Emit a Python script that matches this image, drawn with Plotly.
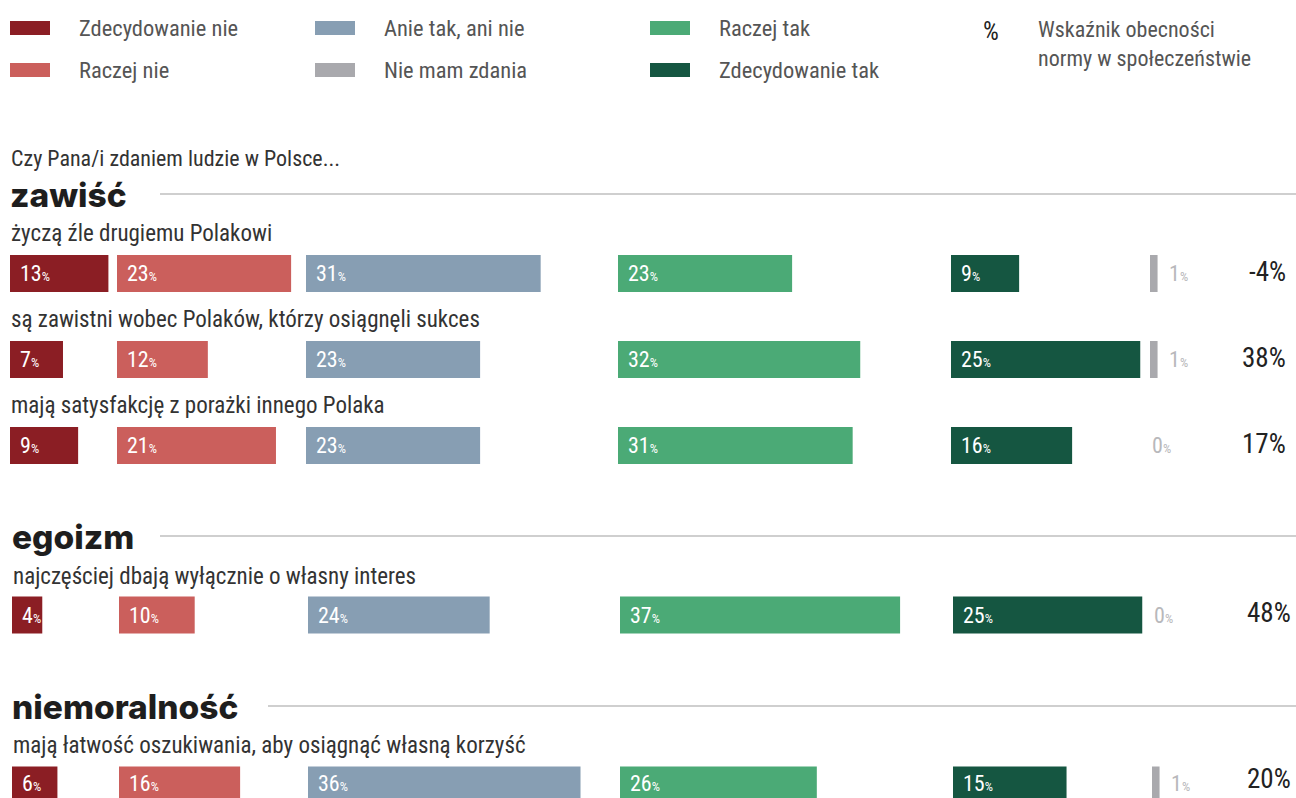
import plotly.graph_objects as go

# dane
kategorie = ["Zdecydowanie nie", "Raczej nie", "Anie tak, ani nie",
             "Raczej tak", "Zdecydowanie tak", "Nie mam zdania"]
kolory = ["#8b1e24", "#cb5f5c", "#879eb3", "#4baa76", "#155641", "#a9a9ad"]

pytania = ["życzą źle drugiemu Polakowi",
           "są zawistni wobec Polaków, którzy osiągnęli sukces",
           "mają satysfakcję z porażki innego Polaka",
           "najczęściej dbają wyłącznie o własny interes",
           "mają łatwość oszukiwania, aby osiągnąć własną korzyść"]
zdecydowanie_nie = [13, 7, 9, 4, 6]
raczej_nie = [23, 12, 21, 10, 16]
anie_tak_ani_nie = [31, 23, 23, 24, 36]
raczej_tak = [23, 32, 31, 37, 26]
zdecydowanie_tak = [9, 25, 16, 25, 15]
nie_mam_zdania = [1, 1, 0, 0, 1]
wskaznik = [-4, 38, 17, 48, 20]

grupy = ["zawiść", "egoizm", "niemoralność"]

W, H = 1296, 798
PX = 7.57                                   # pikseli na 1 punkt procentowy
kol_off = [0, 107, 296, 608, 941, 1140]     # początek kolumn (px)
wiersz_y = [273.5, 359.5, 445.5, 615, 785]  # środki wierszy (px)
wiersz_x0 = [10, 10, 10, 12, 12]
wiersz_prawo = [1288, 1288, 1288, 1293, 1293]

COND = "Roboto Condensed, Liberation Sans Narrow, DejaVu Sans Condensed, Roboto, sans-serif"
BOLD = "Inter, Lato, sans-serif"

serie = [zdecydowanie_nie, raczej_nie, anie_tak_ani_nie,
         raczej_tak, zdecydowanie_tak, nie_mam_zdania]

fig = go.Figure()
ann = []
for k, (nazwa, vals, kol) in enumerate(zip(kategorie, serie, kolory)):
    bases = [(wiersz_x0[i] - 10 + kol_off[k]) / PX for i in range(len(vals))]
    fig.add_bar(x=vals, y=wiersz_y, base=bases, orientation="h", width=37,
                marker=dict(color=kol, line=dict(width=0)), name=nazwa,
                hoverinfo="skip", showlegend=False)
    for i, v in enumerate(vals):
        ty = wiersz_y[i] - (2 if i == 4 else 0)
        if k < 5:
            ann.append(dict(x=bases[i], y=ty, xref="x", yref="y",
                            xanchor="left", yanchor="middle", xshift=8, showarrow=False,
                            text=f"{v}<span style='font-size:13px'>%</span>",
                            font=dict(family=COND, size=22, color="white")))
        else:
            ann.append(dict(x=bases[i] + v, y=ty, xref="x", yref="y",
                            xanchor="left", yanchor="middle",
                            xshift=9 if v > 0 else 0, showarrow=False,
                            text=f"{v}<span style='font-size:13px'>%</span>",
                            font=dict(family=COND, size=22, color="#b8b8bb")))

for i, v in enumerate(wskaznik):
    ann.append(dict(x=wiersz_prawo[i] / W, y=wiersz_y[i] - (6 if i == 4 else 2),
                    xref="paper", yref="y",
                    xanchor="right", yanchor="middle", showarrow=False,
                    text=f"{v}%", font=dict(family=COND, size=27, color="#222")))

# pytania
pyt_y = [233, 319, 405, 576, 745]
for i, t in enumerate(pytania):
    ann.append(dict(x=(wiersz_x0[i] - 1) / W, y=pyt_y[i], xref="paper", yref="y",
                    xanchor="left", yanchor="middle", showarrow=False, text=t,
                    font=dict(family=COND, size=23, color="#333")))

# nagłówki grup
grupy_y = [195, 537, 707]
grupy_x = [10, 12, 12]
linia_x0 = [160, 160, 268]
for g, y, x, lx in zip(grupy, grupy_y, grupy_x, linia_x0):
    ann.append(dict(x=(x - 2) / W, y=y, xref="paper", yref="y", xanchor="left",
                    yanchor="middle", showarrow=False, text=g,
                    font=dict(family=BOLD, size=33.5, color="#1e1e1e", weight=800)))
    fig.add_shape(type="line", xref="paper", yref="y", x0=lx / W, x1=1,
                  y0=y - 1, y1=y - 1, line=dict(color="#cfcfcf", width=2))

ann.append(dict(x=9 / W, y=158, xref="paper", yref="y", xanchor="left",
                yanchor="middle", showarrow=False,
                text="Czy Pana/i zdaniem ludzie w Polsce...",
                font=dict(family=COND, size=22, color="#333")))

# legenda
leg_pos = [(10, 28), (10, 70), (315, 28), (650, 28), (650, 70), (315, 70)]
for nazwa, kol, (lx, ly) in zip(kategorie, kolory, leg_pos):
    fig.add_shape(type="rect", xref="paper", yref="y", x0=lx / W, x1=(lx + 40) / W,
                  y0=ly - 7, y1=ly + 7, fillcolor=kol, line=dict(width=0))
    ann.append(dict(x=(lx + 67) / W, y=ly, xref="paper", yref="y", xanchor="left",
                    yanchor="middle", showarrow=False, text=nazwa,
                    font=dict(family=COND, size=22.5, color="#555")))
ann.append(dict(x=991 / W, y=31, xref="paper", yref="y", xanchor="center",
                yanchor="middle", showarrow=False, text="%",
                font=dict(family=COND, size=25, color="#222")))
ann.append(dict(x=1036 / W, y=44, xref="paper", yref="y", xanchor="left",
                yanchor="middle", showarrow=False, align="left",
                text="Wskaźnik obecności<br>normy w społeczeństwie",
                font=dict(family=COND, size=22, color="#555")))

fig.update_layout(
    width=W, height=H, margin=dict(l=0, r=0, t=0, b=0),
    paper_bgcolor="white", plot_bgcolor="white",
    barmode="overlay", annotations=ann,
    xaxis=dict(range=[-10 / PX, (W - 10) / PX], visible=False, fixedrange=True),
    yaxis=dict(range=[H, 0], visible=False, fixedrange=True),
)
fig.write_html("out.html", config={"displayModeBar": False},
               post_script="document.body.style.margin='0';document.body.style.overflow='hidden';")
